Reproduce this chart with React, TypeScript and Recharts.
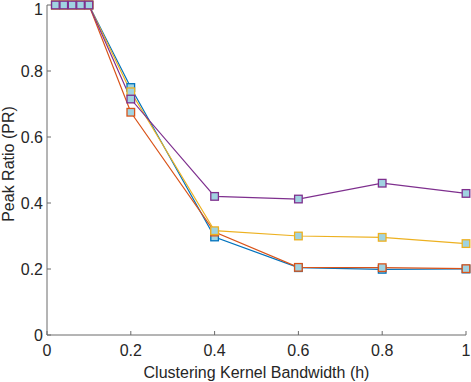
import { LineChart, Line, XAxis, YAxis, Label } from "recharts";

const bandwidth = [0.02, 0.04, 0.06, 0.08, 0.1, 0.2, 0.4, 0.6, 0.8, 1];
const blueSeries = [1, 1, 1, 1, 1, 0.75, 0.297, 0.204, 0.199, 0.2];
const orangeSeries = [1, 1, 1, 1, 1, 0.675, 0.312, 0.205, 0.204, 0.201];
const yellowSeries = [1, 1, 1, 1, 1, 0.737, 0.316, 0.3, 0.296, 0.277];
const purpleSeries = [1, 1, 1, 1, 1, 0.715, 0.42, 0.412, 0.46, 0.429];
const axisTicks = [0, 0.2, 0.4, 0.6, 0.8, 1];

const series = [
  { key: "blue", color: "#0072BD", values: blueSeries },
  { key: "orange", color: "#D95319", values: orangeSeries },
  { key: "yellow", color: "#EDB120", values: yellowSeries },
  { key: "purple", color: "#7E2F8E", values: purpleSeries },
];

const data = bandwidth.map((h, i) => ({
  h,
  blue: blueSeries[i],
  orange: orangeSeries[i],
  yellow: yellowSeries[i],
  purple: purpleSeries[i],
}));

const markerFill = "#a0d3e1";
const textColor = "#262626";
const axisColor = "#6b6b6b";
const font = "'Liberation Sans', Arial, Helvetica, sans-serif";

const squareDot = (color: string) => (props: any) => {
  const { cx, cy, index } = props;
  if (cx == null || cy == null) return <g key={index} />;
  return (
    <rect
      key={index}
      x={cx - 3.8}
      y={cy - 3.8}
      width={7.6}
      height={7.6}
      fill={markerFill}
      stroke={color}
      strokeWidth={1.3}
    />
  );
};

// y label drawn by hand so it sits against the left edge like the original
const YTitle = (props: any) => {
  const vb = props.viewBox || {};
  const cx = 8;
  const cy = (vb.y ?? 5) + (vb.height ?? 330) / 2 - 6;
  return (
    <text
      x={cx}
      y={cy}
      transform={`rotate(-90 ${cx} ${cy})`}
      textAnchor="middle"
      dominantBaseline="central"
      fill={textColor}
      fontSize={16}
      fontFamily={font}
    >
      Peak Ratio (PR)
    </text>
  );
};

export default function App() {
  return (
    <div style={{ position: "absolute", left: 0, top: 0, fontFamily: font }}>
      <LineChart
        width={471}
        height={382}
        data={data}
        margin={{ top: 5, right: 5, bottom: 0, left: 0 }}
      >
        <XAxis
          dataKey="h"
          type="number"
          domain={[0, 1]}
          ticks={axisTicks}
          height={47}
          stroke={axisColor}
          tickSize={-4}
          tickMargin={14}
          tick={{ fill: textColor, fontSize: 16, fontFamily: font }}
        >
          <Label
            value="Clustering Kernel Bandwidth (h)"
            position="insideBottom"
            offset={4}
            style={{ fill: textColor, fontSize: 16, fontFamily: font }}
          />
        </XAxis>
        <YAxis
          type="number"
          domain={[0, 1]}
          ticks={axisTicks}
          width={47}
          stroke={axisColor}
          tickSize={-4}
          tickMargin={8}
          tick={{ fill: textColor, fontSize: 16, fontFamily: font }}
        >
          <Label content={<YTitle />} />
        </YAxis>
        {series.map((s) => (
          <Line
            key={s.key}
            dataKey={s.key}
            stroke={s.color}
            strokeWidth={1.2}
            dot={squareDot(s.color)}
            activeDot={false}
            isAnimationActive={false}
          />
        ))}
      </LineChart>
    </div>
  );
}
